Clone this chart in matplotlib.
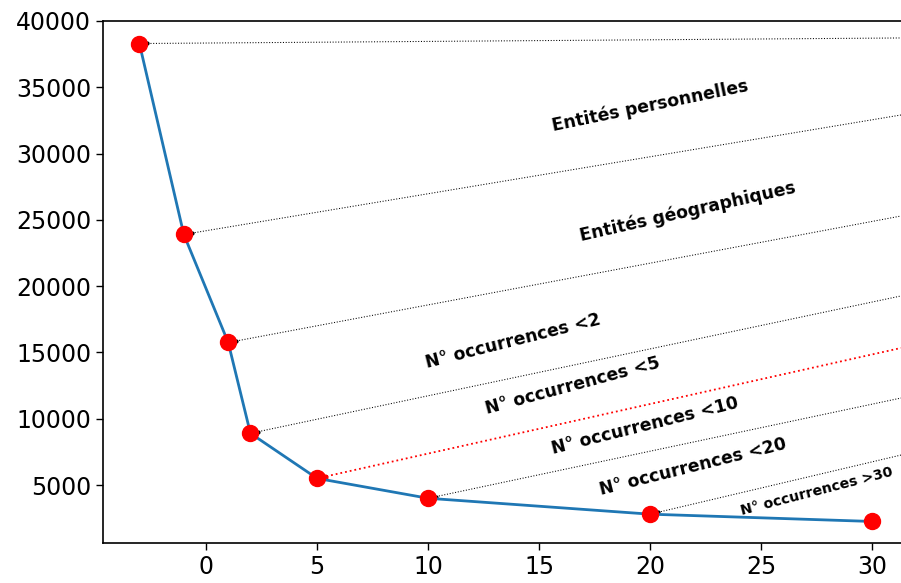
import matplotlib
matplotlib.use("Agg")
import matplotlib.pyplot as plt

# data
x_vals = [-3, -1, 1, 2, 5, 10, 20, 30]
y_vals = [38300, 23900, 15750, 8900, 5500, 4000, 2800, 2250]

# right-edge values of the guide lines (one per point except the last)
guide_end = [38720, 32910, 25290, 19260, 15335, 11560, 7260]
guide_colors = ['black', 'black', 'black', 'black', 'red', 'black', 'black']

labels = ["Entités personnelles", "Entités géographiques", "N° occurrences <2",
          "N° occurrences <5", "N° occurrences <10", "N° occurrences <20",
          "N° occurrences >30"]
label_x = [20.0, 21.7, 13.85, 16.5, 19.75, 21.95, 27.5]
label_y = [33600, 25600, 15850, 12450, 9450, 6350, 4550]
label_rot = [11.6, 12.7, 14.1, 15.0, 14.0, 14.0, 14.6]
label_size = [12.4, 12.4, 12.4, 12.4, 12.4, 12.4, 10.2]

xticks = [0, 5, 10, 15, 20, 25, 30]
yticks = [5000, 10000, 15000, 20000, 25000, 30000, 35000, 40000]

fig = plt.figure(figsize=(9.01, 5.83), dpi=100)
ax = fig.add_axes([0.1143, 0.0686, 0.8857, 0.8954])

xmax = 31.3
ax.set_xlim(-4.64, xmax)
ax.set_ylim(625, 40000)

for xi, yi, ye, c in zip(x_vals[:-1], y_vals[:-1], guide_end, guide_colors):
    lw = 1.3 if c == 'red' else 0.75
    ax.plot([xi, xmax], [yi, ye], linestyle=':', color=c, linewidth=lw, zorder=2,
            clip_on=True)
    sx = xi + 0.35
    sy = yi + (ye - yi) * (sx - xi) / (xmax - xi)
    ax.plot([sx], [sy], 'o', color=c, markersize=3.4 if c == 'red' else 2.0, zorder=3)

ax.plot(x_vals, y_vals, color='#1f77b4', linewidth=2.0, zorder=4)
ax.plot(x_vals, y_vals, 'o', color='red', markersize=11.5, zorder=5)

for t, lx, ly, r, s in zip(labels, label_x, label_y, label_rot, label_size):
    ax.text(lx, ly, t, rotation=r, fontsize=s, fontweight='bold', ha='center',
            va='center', rotation_mode='anchor', family='DejaVu Sans')

ax.set_xticks(xticks)
ax.set_yticks(yticks)
ax.tick_params(labelsize=17, length=5, width=1)
ax.spines['right'].set_visible(False)
for sp in ['left', 'bottom', 'top']:
    ax.spines[sp].set_linewidth(1.2)

fig.savefig("out.png", dpi=100)
